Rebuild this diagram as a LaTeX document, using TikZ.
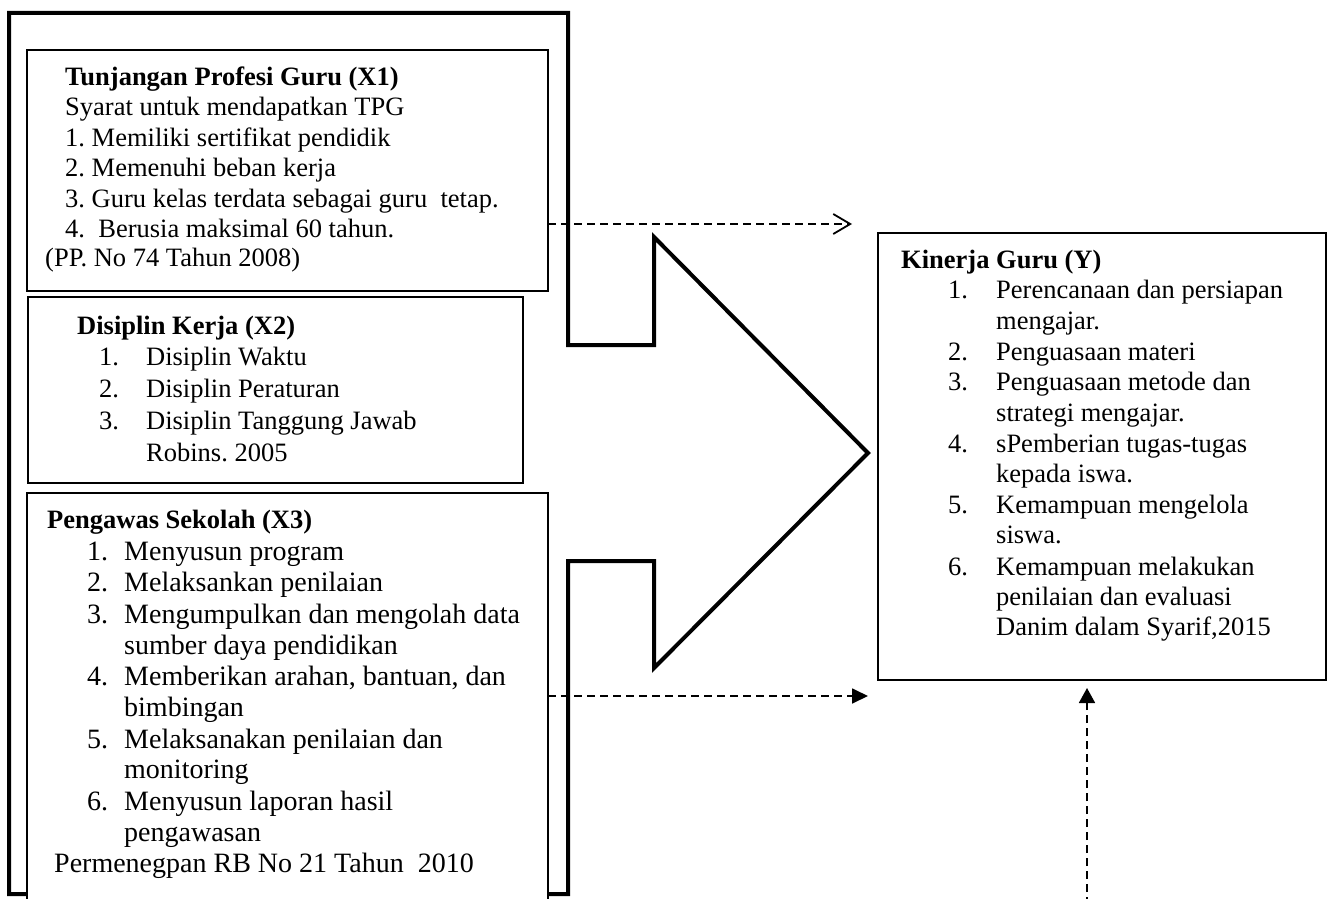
\documentclass[tikz,border=0pt]{standalone}
\usepackage{fontspec}
\setmainfont{Liberation Serif}
\usetikzlibrary{arrows.meta}
\frenchspacing
\begin{document}
\begin{tikzpicture}[x=1pt,y=-1pt,
  box/.style={draw, line width=2pt, fill=white, anchor=north west, inner sep=0pt, outer sep=0pt},
  txt/.style={anchor=base west, inner sep=0pt, font=\fontsize{26.5}{30}\selectfont},
  txtc/.style={anchor=base west, inner sep=0pt, font=\fontsize{28}{30}\selectfont},
  head/.style={anchor=base west, inner sep=0pt, font=\fontsize{26.5}{30}\selectfont\bfseries},
  frame/.style={line width=4pt, line join=miter},
  conn/.style={line width=1.8pt, dash pattern=on 8pt off 5pt}
]
\useasboundingbox (0,0) rectangle (1331,899);
\clip (0,0) rectangle (1331,899);

% outer frame with big arrow
\draw[frame] (9,13) -- (568,13) -- (568,345) -- (654,345) -- (654,237) -- (868,453)
  -- (654,668) -- (654,561) -- (568,561) -- (568,894) -- (9,894) -- cycle;

% boxes
\node[box, minimum width=521pt, minimum height=241pt] (x1) at (27,50) {};
\node[box, minimum width=495pt, minimum height=186pt] (x2) at (28,297) {};
\node[box, minimum width=521pt, minimum height=422pt] (x3) at (27,493) {};
\node[box, minimum width=448pt, minimum height=447pt] (y) at (878,233) {};

% connectors
\coordinate (e1) at (852,224);
\draw[conn, -{Straight Barb[length=17pt,width=20pt,line width=1.8pt]}] (x1.east |- e1) -- (e1);
\coordinate (e2) at (868,696);
\draw[conn, -{Triangle[length=16pt,width=15pt]}] (x3.east |- e2) -- (e2);
\coordinate (e3s) at (1087,905);
\coordinate (e3) at (1087,688);
\draw[conn, -{Triangle[length=15pt,width=16pt]}] (e3s) -- (e3);

% X1 text
\node[head] (x1h) at (65,85) {Tunjangan Profesi Guru (X1)};
\node[txt] (x1a) at (65,115.5) {Syarat untuk mendapatkan TPG};
\node[txt] (x1b) at (65,146) {1. Memiliki sertifikat pendidik};
\node[txt] (x1c) at (65,176.5) {2. Memenuhi beban kerja};
\node[txt] (x1d) at (65,207) {3. Guru kelas terdata sebagai guru~~tetap.};
\node[txt] (x1e) at (65,237) {4.~~Berusia maksimal 60 tahun.};
\node[txt] (x1f) at (45,266) {(PP. No 74 Tahun 2008)};

% X2 text
\node[head] (x2h) at (77,334) {Disiplin Kerja (X2)};
\node[txt] (x2a) at (99,365) {\makebox[47pt][l]{1.}Disiplin Waktu};
\node[txt] (x2b) at (99,397) {\makebox[47pt][l]{2.}Disiplin Peraturan};
\node[txt] (x2c) at (99,429) {\makebox[47pt][l]{3.}Disiplin Tanggung Jawab};
\node[txt] (x2d) at (146,461) {Robins. 2005};

% X3 text
\node[head] (x3h) at (47,528) {Pengawas Sekolah (X3)};
\node[txtc] (x3a) at (87,560) {\makebox[37pt][l]{1.}Menyusun program};
\node[txtc] (x3b) at (87,591.5) {\makebox[37pt][l]{2.}Melaksankan penilaian};
\node[txtc] (x3c) at (87,623) {\makebox[37pt][l]{3.}Mengumpulkan dan mengolah data};
\node[txtc] (x3d) at (124,654.5) {sumber daya pendidikan};
\node[txtc] (x3e) at (87,685.5) {\makebox[37pt][l]{4.}Memberikan arahan, bantuan, dan};
\node[txtc] (x3f) at (124,716.5) {bimbingan};
\node[txtc] (x3g) at (87,748) {\makebox[37pt][l]{5.}Melaksanakan penilaian dan};
\node[txtc] (x3i) at (124,778.5) {monitoring};
\node[txtc] (x3j) at (87,810) {\makebox[37pt][l]{6.}Menyusun laporan hasil};
\node[txtc] (x3k) at (124,841) {pengawasan};
\node[txtc] (x3l) at (54,872) {Permenegpan RB No 21 Tahun~~2010};

% Y text
\node[head] (yh) at (901,268) {Kinerja Guru (Y)};
\node[txt] (ya) at (948,298) {\makebox[48pt][l]{1.}Perencanaan dan persiapan};
\node[txt] (yb) at (996,329) {mengajar.};
\node[txt] (yc) at (948,360) {\makebox[48pt][l]{2.}Penguasaan materi};
\node[txt] (yd) at (948,390) {\makebox[48pt][l]{3.}Penguasaan metode dan};
\node[txt] (ye) at (996,421) {strategi mengajar.};
\node[txt] (yf) at (948,452) {\makebox[48pt][l]{4.}sPemberian tugas-tugas};
\node[txt] (yg) at (996,482) {kepada iswa.};
\node[txt] (yi) at (948,513) {\makebox[48pt][l]{5.}Kemampuan mengelola};
\node[txt] (yj) at (996,543) {siswa.};
\node[txt] (yk) at (948,575) {\makebox[48pt][l]{6.}Kemampuan melakukan};
\node[txt] (yl) at (996,605) {penilaian dan evaluasi};
\node[txt] (ym) at (996,635) {Danim dalam Syarif,2015};
\end{tikzpicture}
\end{document}
